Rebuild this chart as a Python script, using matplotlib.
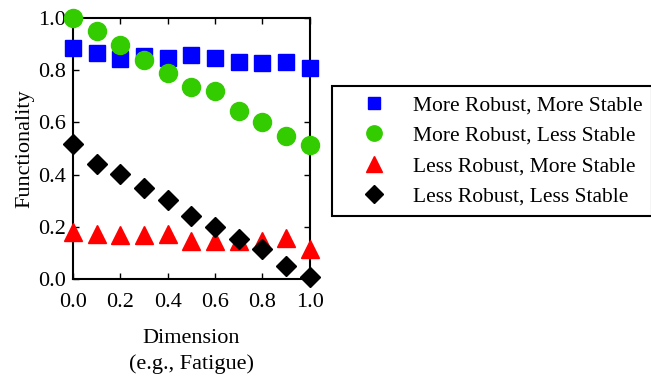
import matplotlib
matplotlib.use("Agg")
import matplotlib.pyplot as plt

x = [0.0, 0.1, 0.2, 0.3, 0.4, 0.5, 0.6, 0.7, 0.8, 0.9, 1.0]
blue = [0.885, 0.865, 0.842, 0.853, 0.846, 0.859, 0.846, 0.833, 0.829, 0.833, 0.81]
green = [1.0, 0.95, 0.895, 0.84, 0.79, 0.735, 0.72, 0.643, 0.60, 0.547, 0.513]
red = [0.179, 0.173, 0.167, 0.167, 0.173, 0.147, 0.147, 0.147, 0.147, 0.156, 0.115]
black = [0.519, 0.442, 0.401, 0.35, 0.301, 0.243, 0.201, 0.154, 0.115, 0.051, 0.006]
labels = ["More Robust, More Stable", "More Robust, Less Stable",
          "Less Robust, More Stable", "Less Robust, Less Stable"]
ticks = [0.0, 0.2, 0.4, 0.6, 0.8, 1.0]

plt.rcParams['font.family'] = ['Liberation Serif', 'DejaVu Serif']
fig = plt.figure(figsize=(6.51, 3.76), dpi=100)
ax = fig.add_axes([0.112, 0.258, 0.364, 0.694])

ax.plot(x, blue, 's', color='#0000ff', ms=11, clip_on=False, label=labels[0], zorder=3)
ax.plot(x, green, 'o', color='#33cc00', ms=13, clip_on=False, label=labels[1], zorder=3)
ax.plot(x, red, '^', color='#ff0000', ms=13, clip_on=False, label=labels[2], zorder=3)
ax.plot(x, black, 'D', color='#000000', ms=10.5, clip_on=False, label=labels[3], zorder=4)

ax.set_xlim(0, 1)
ax.set_ylim(0, 1)
ax.set_xticks(ticks)
ax.set_yticks(ticks)
ax.set_xticklabels([f"{t:.1f}" for t in ticks])
ax.set_yticklabels([f"{t:.1f}" for t in ticks])
ax.tick_params(direction='in', top=True, right=True, labelsize=16, length=4, width=1)
ax.tick_params(axis='x', pad=10)
ax.tick_params(axis='y', pad=5)
for s in ax.spines.values():
    s.set_linewidth(1.5)
ax.set_xlabel("Dimension\n(e.g., Fatigue)", fontsize=16, linespacing=1.45, labelpad=12)
ax.set_ylabel("Functionality", fontsize=16, labelpad=3)

leg = fig.legend(loc='upper left', bbox_to_anchor=(0.51, 0.772), fontsize=15.5,
                 frameon=True, fancybox=False, edgecolor='black', framealpha=1,
                 borderpad=0.45, handletextpad=0.3, labelspacing=0.48, handlelength=3.0,
                 borderaxespad=0, markerscale=0.85)
leg.get_frame().set_linewidth(1.5)

fig.savefig("out.png", dpi=100)
